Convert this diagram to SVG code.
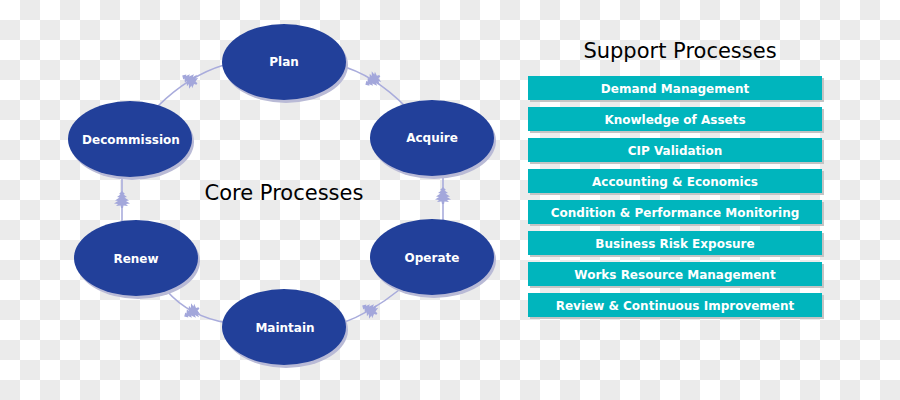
<svg xmlns="http://www.w3.org/2000/svg" width="900" height="400" viewBox="0 0 900 400">
  <defs>
    <pattern id="checker" width="40" height="40" patternUnits="userSpaceOnUse">
      <rect width="40" height="40" fill="#ffffff"/>
      <rect x="20" y="0" width="20" height="20" fill="#ebebeb"/>
      <rect x="0" y="20" width="20" height="20" fill="#ebebeb"/>
    </pattern>
    <path id="spike" d="M0,-9 L3,-6 L1.5,-5.5 L5,-3 L2.5,-2.5 L7,0.5 L4,1 L8,3.5 L4,4 L6,6 L1.5,5.5 L1,8 L-1,8 L-1.5,5.5 L-6,6 L-4,4 L-8,3.5 L-4,1 L-7,0.5 L-2.5,-2.5 L-5,-3 L-1.5,-5.5 L-3,-6 Z"/>
  </defs>
  <style>
    .conn { fill: none; stroke: #a9acdc; stroke-width: 1.6; }
    .spk { fill: #a3a7db; }
    .shadow { fill: #b9bad6; }
    .core { fill: #22409a; }
    .ctext { font-family: "DejaVu Sans", Verdana, sans-serif; font-weight: bold; font-size: 12px; fill: #ffffff; text-anchor: middle; }
    .title { font-family: "DejaVu Sans", Verdana, sans-serif; font-size: 21px; fill: #000000; text-anchor: middle; }
    .boxsh { fill: #c4c4c4; }
    .box { fill: #00b5bd; }
    .btext { font-family: "DejaVu Sans", Verdana, sans-serif; font-weight: bold; font-size: 12px; fill: #ffffff; text-anchor: middle; }
  </style>
  <rect width="900" height="400" fill="url(#checker)"/>

  <g id="connectors">
    <path class="conn" d="M158,106 Q189,75.5 224,65"/>
    <path class="conn" d="M338,65 Q373.5,74 407,108"/>
    <path class="conn" d="M443,172 L443,224"/>
    <path class="conn" d="M399,290 Q370.5,313 340,324"/>
    <path class="conn" d="M228,323 Q189.5,317 166,290"/>
    <path class="conn" d="M122,174 L122,226"/>
    <use href="#spike" class="spk" transform="translate(190,80) rotate(-60)"/>
    <use href="#spike" class="spk" transform="translate(373,80) rotate(-122)"/>
    <use href="#spike" class="spk" transform="translate(443,196)"/>
    <use href="#spike" class="spk" transform="translate(370,310) rotate(-60)"/>
    <use href="#spike" class="spk" transform="translate(192,312) rotate(-120)"/>
    <use href="#spike" class="spk" transform="translate(122,200)"/>
  </g>

  <g id="plan">
    <ellipse class="shadow" cx="286" cy="65" rx="62" ry="38"/>
    <ellipse class="core" cx="284" cy="62" rx="62" ry="38"/>
    <text class="ctext" x="284" y="66">Plan</text>
  </g>
  <g id="acquire">
    <ellipse class="shadow" cx="434" cy="141" rx="62" ry="38"/>
    <ellipse class="core" cx="432" cy="138" rx="62" ry="38"/>
    <text class="ctext" x="432" y="142">Acquire</text>
  </g>
  <g id="operate">
    <ellipse class="shadow" cx="434" cy="260" rx="62" ry="38"/>
    <ellipse class="core" cx="432" cy="257" rx="62" ry="38"/>
    <text class="ctext" x="432" y="262">Operate</text>
  </g>
  <g id="maintain">
    <ellipse class="shadow" cx="286" cy="330" rx="62" ry="38"/>
    <ellipse class="core" cx="284" cy="327" rx="62" ry="38"/>
    <text class="ctext" x="285" y="332">Maintain</text>
  </g>
  <g id="renew">
    <ellipse class="shadow" cx="138" cy="261" rx="62" ry="38"/>
    <ellipse class="core" cx="136" cy="258" rx="62" ry="38"/>
    <text class="ctext" x="136" y="263">Renew</text>
  </g>
  <g id="decommission">
    <ellipse class="shadow" cx="132" cy="142" rx="62" ry="38"/>
    <ellipse class="core" cx="130" cy="139" rx="62" ry="38"/>
    <text class="ctext" x="131" y="144">Decommission</text>
  </g>

  <g id="core-title">
    <text class="title" x="284" y="200">Core Processes</text>
  </g>

  <g id="support-title">
    <text class="title" x="680" y="58">Support Processes</text>
  </g>

  <g id="support-boxes">
    <g id="demand">
      <rect class="boxsh" x="530" y="78" width="294" height="24"/>
      <rect class="box" x="528" y="76" width="294" height="24"/>
      <text class="btext" x="675" y="92.5">Demand Management</text>
    </g>
    <g id="knowledge">
      <rect class="boxsh" x="530" y="109" width="294" height="24"/>
      <rect class="box" x="528" y="107" width="294" height="24"/>
      <text class="btext" x="675" y="123.5">Knowledge of Assets</text>
    </g>
    <g id="cip">
      <rect class="boxsh" x="530" y="140" width="294" height="24"/>
      <rect class="box" x="528" y="138" width="294" height="24"/>
      <text class="btext" x="675" y="154.5">CIP Validation</text>
    </g>
    <g id="accounting">
      <rect class="boxsh" x="530" y="171" width="294" height="24"/>
      <rect class="box" x="528" y="169" width="294" height="24"/>
      <text class="btext" x="675" y="185.5">Accounting &amp; Economics</text>
    </g>
    <g id="condition">
      <rect class="boxsh" x="530" y="202" width="294" height="24"/>
      <rect class="box" x="528" y="200" width="294" height="24"/>
      <text class="btext" x="675" y="216.5">Condition &amp; Performance Monitoring</text>
    </g>
    <g id="risk">
      <rect class="boxsh" x="530" y="233" width="294" height="24"/>
      <rect class="box" x="528" y="231" width="294" height="24"/>
      <text class="btext" x="675" y="247.5">Business Risk Exposure</text>
    </g>
    <g id="works">
      <rect class="boxsh" x="530" y="264" width="294" height="24"/>
      <rect class="box" x="528" y="262" width="294" height="24"/>
      <text class="btext" x="675" y="278.5">Works Resource Management</text>
    </g>
    <g id="review">
      <rect class="boxsh" x="530" y="295" width="294" height="24"/>
      <rect class="box" x="528" y="293" width="294" height="24"/>
      <text class="btext" x="675" y="310">Review &amp; Continuous Improvement</text>
    </g>
  </g>
</svg>
